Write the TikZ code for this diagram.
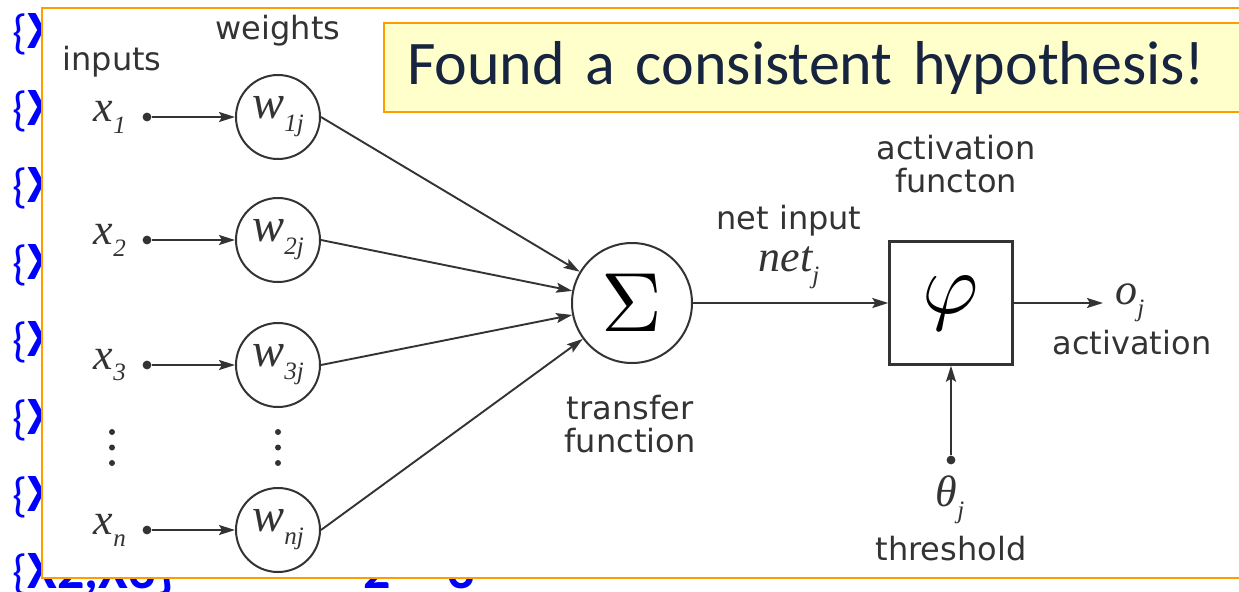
\documentclass[tikz,border=0pt]{standalone}
\usepackage{graphicx}
\usepackage{fontspec}
\usetikzlibrary{positioning, arrows.meta, calc}
\newfontfamily\dejavu{DejaVu Sans}
\newfontfamily\carlito{Carlito}
\newfontfamily\libserif{Liberation Serif}
\definecolor{ink}{HTML}{333333}
\definecolor{frame}{HTML}{FF9C00}
\definecolor{notefill}{HTML}{FFFFCC}
\definecolor{notetext}{HTML}{172440}
\definecolor{slideblue}{HTML}{0000FF}
\newcommand{\varsize}{\libserif\itshape\fontsize{22}{24}\selectfont}
\newcommand{\wsize}{\libserif\itshape\fontsize{24}{26}\selectfont}
\newcommand{\vsub}[2]{#1\raisebox{-0.27em}{\fontsize{12.5}{12.5}\selectfont #2}}

\begin{document}
\begin{tikzpicture}[
  x=0.5pt, y=-0.5pt,
  >={Stealth[length=8pt, width=5pt, inset=1.5pt]},
  lbl/.style={font=\dejavu\fontsize{16}{16.5}\selectfont, text=ink, align=center, inner sep=0pt},
  vlabel/.style={font=\varsize, text=ink, inner sep=0pt},
  indot/.style={circle, fill=ink, inner sep=0pt, minimum size=4.4pt},
  wcirc/.style={circle, draw=ink, line width=1pt, minimum size=42pt, inner sep=0pt, font=\wsize, text=ink},
  sumcirc/.style={circle, draw=ink, line width=1pt, minimum size=60pt, inner sep=0pt},
  actbox/.style={draw=ink, line width=1.2pt, minimum size=61.5pt, inner sep=0pt},
  arrow/.style={->, line width=0.95pt, draw=ink},
  frag/.style={font=\carlito\bfseries\fontsize{27}{27}\selectfont, text=slideblue, inner sep=0pt, anchor=base west},
  note/.style={draw=frame, line width=1pt, fill=notefill, text=notetext,
    font=\carlito\fontsize{31}{33}\selectfont, minimum height=44.5pt,
    text width=420pt, inner xsep=11.5pt, align=left}
]
\useasboundingbox (0,0) rectangle (1239,591);
\fill[white] (0,0) rectangle (1239,591);

% slide behind the panel
\foreach \y in {48,125,202,279,356,434,511}
  \node[frag] (row\y) at (12,\y) {{\mdseries\fontsize{24}{24}\selectfont\{}X};
\node[frag] (row588) at (12,588) {{\mdseries\fontsize{24}{24}\selectfont\{}X2,X3\}};
\node[frag] (two) at (363,588) {2};
\node[frag] (three) at (447,588) {3};

% panel
\draw[frame, line width=1pt, fill=white] (42,8) rectangle (1260,578);

% note
\node[note, anchor=west] (found) at (383,67.5) {Found a consistent hypothesis!};

% headers
\node[lbl] (inputs) at (112,62) {inputs};
\node[lbl] (weights) at (278,31) {weights};

% summing junction and activation
\node[sumcirc] (sigma) at (632,303) {\scalebox{4.2}{$\Sigma$}};
\node[actbox] (act) at (951,303) {\scalebox{4.3}{$\varphi$}};
\node[lbl] (tfunc) at (630,424) {transfer\\function};
\node[lbl] (afunc) at (956,164) {activation\\functon};

% input rows
\foreach \i/\y/\s in {1/117/1, 2/240/2, 3/365/3, n/530/n} {
  \node[indot] (in\i) at (147,\y) {};
  \node[vlabel, left=8pt of in\i] (x\i) {\vsub{x}{\s}};
  \node[wcirc] (w\i) at (278,\y) {\vsub{w}{\s j}};
  \draw[arrow] (in\i) -- (w\i);
  \draw[arrow] (w\i.east) -- (sigma);
}
\foreach \c in {112,278}
  \foreach \d in {0,1,2}
    \fill[ink] (\c,432+\d*15.5) circle[radius=1.5pt];

% net input
\node[lbl] (netlbl) at (789,221) {net input};
\node[vlabel] (netj) at (789,268) {\vsub{net}{j}};
\draw[arrow] (sigma) -- (act);

% output
\coordinate (out) at (1103,303);
\draw[arrow] (act) -- (out);
\node[vlabel, right=6pt of out] (oj) {\vsub{o}{j}};
\node[lbl] (actlbl) at (1132,343) {activation};

% threshold
\node[indot] (th) at (951,460) {};
\draw[arrow] (th) -- (act);
\node[vlabel] (thj) at (950,500) {\vsub{θ}{j}};
\node[lbl] (thlbl) at (951,549) {threshold};

\end{tikzpicture}
\end{document}
